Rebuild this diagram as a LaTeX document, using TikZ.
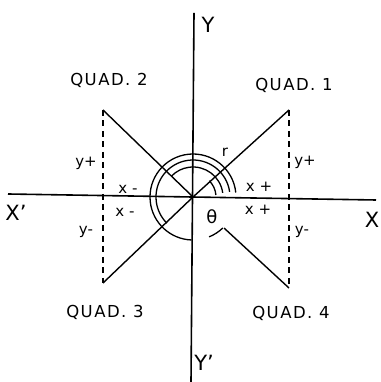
\documentclass[tikz,border=0pt]{standalone}
\usepackage{fontspec}
\setmainfont{DejaVu Sans}
\usetikzlibrary{calc}
\begin{document}
\begin{tikzpicture}[x=1pt,y=1pt,
  axis/.style={line width=1.6pt},
  ray/.style={line width=1.4pt},
  dashline/.style={line width=1.4pt, dash pattern=on 6pt off 4.5pt},
  arcline/.style={line width=1.3pt},
  quad/.style={font=\fontsize{16.5}{16.5}\selectfont\addfontfeature{LetterSpace=9}, inner sep=0},
  big/.style={font=\fontsize{21}{21}\selectfont, inner sep=0},
  small/.style={font=\fontsize{15}{15}\selectfont, inner sep=0}]
\useasboundingbox (0,0) rectangle (380,382);
\fill[white] (0,0) rectangle (380,382);
% key points
\coordinate (O) at (193,185);
\coordinate (Q1) at (289,272);
\coordinate (Q2) at (103,272);
\coordinate (Q3) at (103,99);
\coordinate (Q4) at (289,94);
\coordinate (Q4s) at ($(O)+(315:44)$);
\coordinate (XL) at (8,188);
\coordinate (XR) at (376,182);
\coordinate (YT) at (194,369);
\coordinate (YB) at (191,0);
% axes
\draw[axis] (XL) -- (XR);
\draw[axis] (YT) -- (YB);
% rays
\draw[ray] (O) -- (Q1);
\draw[ray] (O) -- (Q2);
\draw[ray] (O) -- (Q3);
\draw[ray] (Q4s) -- (Q4);
% dashed ordinates
\draw[dashline] (Q1) -- (Q4);
\draw[dashline] (Q2) -- (Q3);
% angle arcs
\draw[arcline] ($(O)+(6:43)$) arc[start angle=6, end angle=268, radius=43];
\draw[arcline] ($(O)+(292:43)$) arc[start angle=292, end angle=314, radius=43];
\draw[arcline] ($(O)+(8:37)$) arc[start angle=8, end angle=225, radius=37];
\draw[arcline] ($(O)+(8:30)$) arc[start angle=8, end angle=135, radius=30];
\draw[arcline] ($(O)+(5:23)$) arc[start angle=5, end angle=45, radius=23];
% axis labels
\node[big] (lY) at (208,357) {Y};
\node[big] (lYp) at (204,19) {Y'};
\node[big] (lXp) at (16,169) {X'};
\node[big] (lX) at (372,162) {X};
% quadrant labels
\node[quad] (q2) at (109,302) {QUAD. 2};
\node[quad] (q1) at (294,297) {QUAD. 1};
\node[quad] (q3) at (105,70) {QUAD. 3};
\node[quad] (q4) at (291,69) {QUAD. 4};
% sign labels
\node[small] (yp1) at (86,219) {y+};
\node[small] (yp2) at (305,220) {y+};
\node[small] (ym1) at (86,150) {y-};
\node[small] (ym2) at (302,150) {y-};
\node[small] (xm1) at (128,193) {x -};
\node[small] (xm2) at (125,170) {x -};
\node[small] (xp1) at (259,195) {x +};
\node[small] (xp2) at (258,172) {x +};
\node[small] (lr) at (225,230) {r};
\node[font=\fontsize{18}{18}\selectfont, inner sep=0] (lth) at (212,165) {θ};
\end{tikzpicture}
\end{document}
